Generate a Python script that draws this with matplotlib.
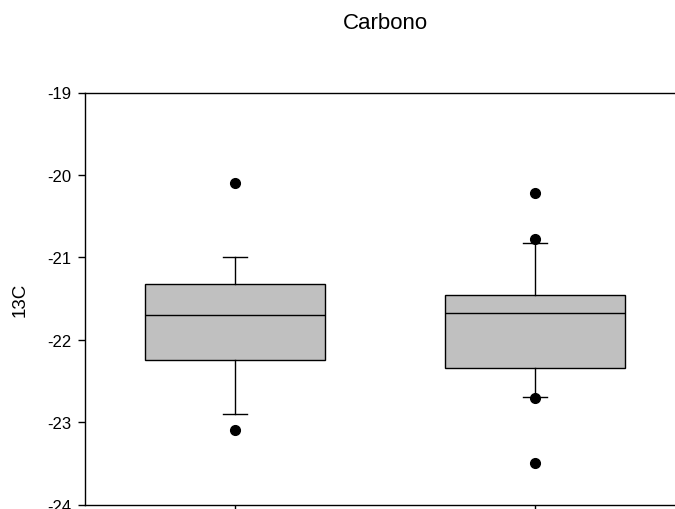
import matplotlib
matplotlib.use("Agg")
import matplotlib.pyplot as plt

plt.rcParams['font.family'] = ['Liberation Sans', 'DejaVu Sans']

# box statistics for the two groups of 13C values
groups = ["A", "B"]
q1 = [-22.24, -22.34]
med = [-21.70, -21.67]
q3 = [-21.32, -21.46]
whislo = [-22.90, -22.69]
whishi = [-21.00, -20.83]
fliers = [
    [-20.10, -23.09],
    [-20.22, -20.78, -22.70, -23.49],
]
yticks = [-24, -23, -22, -21, -20, -19]

stats = []
for i in range(len(groups)):
    stats.append(dict(label=groups[i], q1=q1[i], med=med[i], q3=q3[i],
                      whislo=whislo[i], whishi=whishi[i], fliers=fliers[i]))

fig = plt.figure(figsize=(6.75, 5.1), dpi=100)
ax = fig.add_axes([85 / 675, 4.3 / 510, 600 / 675, 412.2 / 510])

ax.bxp(stats, positions=[1, 2], widths=0.6, capwidths=0.08, patch_artist=True,
       boxprops=dict(facecolor="#c0c0c0", edgecolor="black", linewidth=1),
       medianprops=dict(color="black", linewidth=1),
       whiskerprops=dict(color="black", linewidth=1),
       capprops=dict(color="black", linewidth=1),
       flierprops=dict(marker="o", markerfacecolor="black",
                       markeredgecolor="black", markersize=7))

ax.set_xlim(0.5, 2.5)
ax.set_ylim(-24, -19)
ax.set_yticks(yticks)
ax.set_yticklabels([str(t) for t in yticks])
ax.set_xticks([1, 2])
ax.set_xticklabels(["", ""])
ax.tick_params(axis="both", direction="out", length=5, width=1, labelsize=12, pad=5)
ax.spines["right"].set_visible(False)
for s in ["left", "top", "bottom"]:
    ax.spines[s].set_linewidth(1)

fig.text(20 / 675, 1 - 300 / 510, "13C", rotation=90, ha="center", va="center",
         fontsize=13.5)
fig.text(385 / 675, 1 - 29 / 510, "Carbono", ha="center", va="baseline", fontsize=16)

fig.savefig("out.png", dpi=100)
